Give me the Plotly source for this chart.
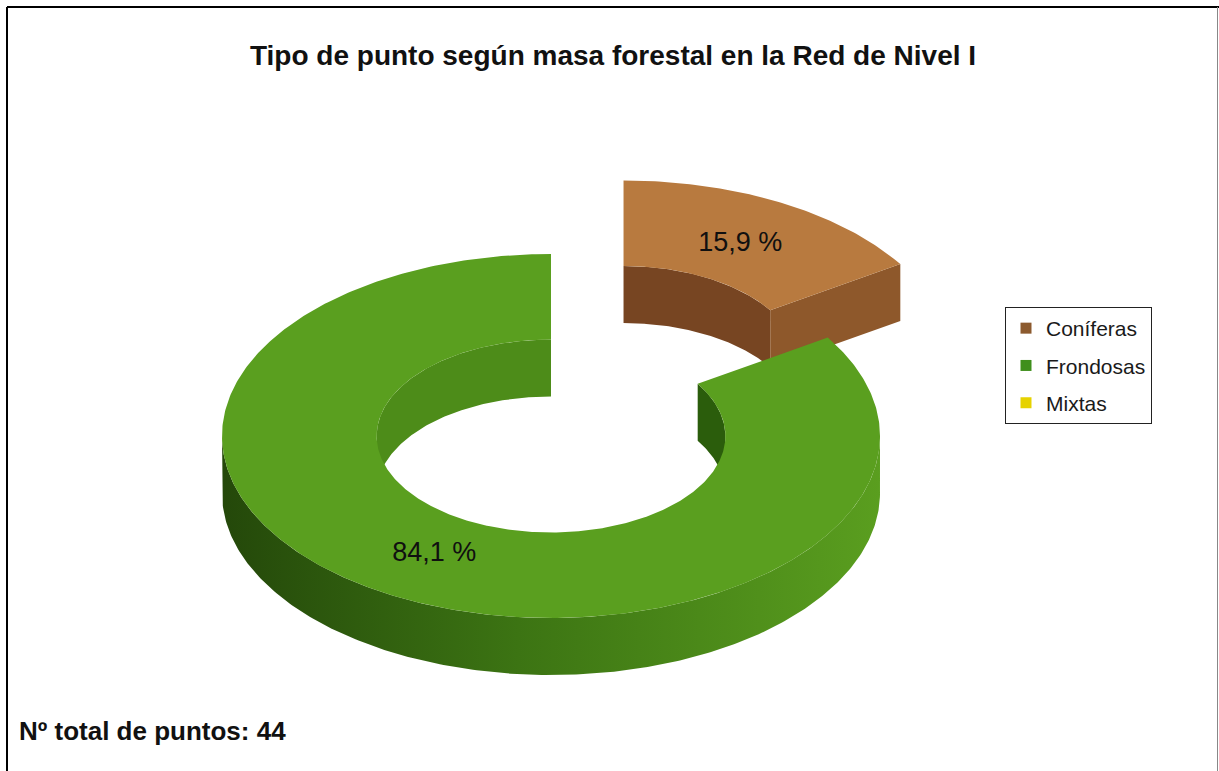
import numpy as np
import plotly.graph_objects as go

# --- data -------------------------------------------------------------
categories = ["Coníferas", "Frondosas", "Mixtas"]
counts = [7, 37, 0]
title_text = "Tipo de punto según masa forestal en la Red de Nivel I"
total_text = "Nº total de puntos: 44"

# --- styling ------------------------------------------------------------
legend_colors = ["#8c5a2e", "#3f8f1c", "#e6d200"]
top_colors = ["#b87a3f", "#5a9f1f", "#e6d200"]
inner_left_colors = ["#8a5428", "#4d8c19", "#b8a800"]
inner_right_colors = ["#774522", "#2b5d0c", "#a09200"]
outer_gradients = [
    [[0, "#5e3618"], [1, "#9a6232"]],
    [[0, "#24480a"], [0.45, "#3c7413"], [1, "#5a9e1f"]],
    [[0, "#a09200"], [1, "#e6d200"]],
]
cut_colors = ["#8e582b", "#356a10", "#b8a800"]
explode = [0.46, 0.0, 0.0]

W, H = 1219, 771
CX, CY = 551, 436          # centre of the ring's top face (px)
RX, RY = 329, 182          # outer radii of the projected ellipse (px)
R_IN = 0.53                # hole radius as a fraction of the outer radius
DEPTH = 57                 # thickness of the ring (px)
LABEL_R = 0.74             # radial position of the percentage labels


def point(theta, r, ox, oy, dz=0.0):
    t = np.radians(theta)
    return CX + ox + r * RX * np.sin(t), CY + oy - r * RY * np.cos(t) + dz


def arc(t1, t2, r, ox, oy, dz=0.0, n=None):
    n = n or max(8, int(abs(t2 - t1) * 1.5))
    th = np.linspace(t1, t2, n)
    return point(th, r, ox, oy, dz)


def intersect(a, b, lo, hi):
    s, e = max(a, lo), min(b, hi)
    return (s, e) if e > s else None


def wall(t1, t2, r, ox, oy):
    xt, yt = arc(t1, t2, r, ox, oy)
    xb, yb = arc(t2, t1, r, ox, oy, DEPTH)
    return np.concatenate([xt, xb, xt[:1]]), np.concatenate([yt, yb, yt[:1]])


def poly_trace(x, y, color=None, gradient=None):
    kw = dict(x=x, y=y, mode="lines", fill="toself", line=dict(width=0),
              hoverinfo="skip", showlegend=False)
    if gradient is not None:
        kw["fillgradient"] = dict(type="horizontal", colorscale=gradient)
    else:
        kw["fillcolor"] = color
    return go.Scatter(**kw)


total = sum(counts)
slices = []
start = 0.0
for i, c in enumerate(counts):
    span = 360.0 * c / total
    if c > 0:
        mid = start + span / 2
        d = explode[i]
        ox = d * RX * np.sin(np.radians(mid))
        oy = -d * RY * np.cos(np.radians(mid))
        slices.append(dict(i=i, a=start, b=start + span, mid=mid, ox=ox, oy=oy))
    start += span

# paint from back to front
slices.sort(key=lambda s: -np.cos(np.radians(s["mid"])))

fig = go.Figure()
label_x, label_y, label_t = [], [], []
for s in slices:
    i, a, b, ox, oy = s["i"], s["a"], s["b"], s["ox"], s["oy"]
    # inner wall (far half of the hole)
    for lo, hi in ((0, 90), (270, 360)):
        rng = intersect(a, b, lo, hi)
        if rng:
            x, y = wall(rng[0], rng[1], R_IN, ox, oy)
            col = inner_right_colors[i] if lo == 0 else inner_left_colors[i]
            fig.add_trace(poly_trace(x, y, col))
    # outer wall (near half)
    rng = intersect(a, b, 90, 270)
    if rng:
        x, y = wall(rng[0], rng[1], 1.0, ox, oy)
        fig.add_trace(poly_trace(x, y, gradient=outer_gradients[i]))
    # cut faces turned toward the viewer
    for th, visible in ((a, np.sin(np.radians(a)) < -1e-6),
                        (b, np.sin(np.radians(b)) > 1e-6)):
        if visible:
            xi, yi = point(th, R_IN, ox, oy)
            xo, yo = point(th, 1.0, ox, oy)
            x = [xi, xo, xo, xi, xi]
            y = [yi, yo, yo + DEPTH, yi + DEPTH, yi]
            fig.add_trace(poly_trace(x, y, cut_colors[i]))
    # top face
    xo, yo = arc(a, b, 1.0, ox, oy)
    xi, yi = arc(b, a, R_IN, ox, oy)
    fig.add_trace(poly_trace(np.concatenate([xo, xi, xo[:1]]),
                             np.concatenate([yo, yi, yo[:1]]), top_colors[i]))
    lx, ly = point(s["mid"], LABEL_R, ox, oy)
    label_x.append(lx)
    label_y.append(ly)
    pct = 100.0 * counts[i] / total
    label_t.append(f"{pct:.1f}".replace(".", ",") + " %")

fig.add_trace(go.Scatter(
    x=label_x, y=label_y, text=label_t, mode="text", hoverinfo="skip",
    showlegend=False,
    textfont=dict(family="Liberation Sans", size=27, color="#101010"),
))

# legend entries
for name, col in zip(categories, legend_colors):
    fig.add_trace(go.Scatter(
        x=[None], y=[None], mode="markers", name=name, legendgroup=name,
        marker=dict(symbol="square", size=11, color=col),
    ))

fig.update_layout(
    width=W, height=H,
    margin=dict(l=0, r=0, t=0, b=0),
    paper_bgcolor="white", plot_bgcolor="white",
    xaxis=dict(range=[0, W], visible=False, fixedrange=True),
    yaxis=dict(range=[H, 0], visible=False, fixedrange=True),
    title=dict(text=title_text, x=613 / W, y=1 - 55 / H,
               xanchor="center", yanchor="middle",
               font=dict(family="Liberation Sans", size=28, weight="bold",
                         color="#111111")),
    legend=dict(x=1005 / W, y=1 - 307 / H, xanchor="left", yanchor="top",
                bordercolor="#222222", borderwidth=1, bgcolor="white",
                font=dict(family="Liberation Sans", size=21, color="#1a1a1a"),
                itemwidth=30, tracegroupgap=7),
    annotations=[dict(text=total_text, x=17 / W, y=1 - 731 / H,
                      xref="paper", yref="paper", xanchor="left",
                      yanchor="middle", showarrow=False,
                      font=dict(family="Liberation Sans", size=26,
                                weight="bold", color="#111111"))],
    shapes=[
        dict(type="line", xref="paper", yref="paper", x0=7 / W, x1=7 / W,
             y0=0, y1=1 - 7 / H, line=dict(color="black", width=2)),
        dict(type="line", xref="paper", yref="paper", x0=7 / W, x1=1,
             y0=1 - 7 / H, y1=1 - 7 / H, line=dict(color="black", width=2)),
        dict(type="line", xref="paper", yref="paper", x0=1217.5 / W,
             x1=1217.5 / W, y0=0, y1=1 - 7 / H,
             line=dict(color="#888888", width=1)),
    ],
)

fig.write_html("out.html")
